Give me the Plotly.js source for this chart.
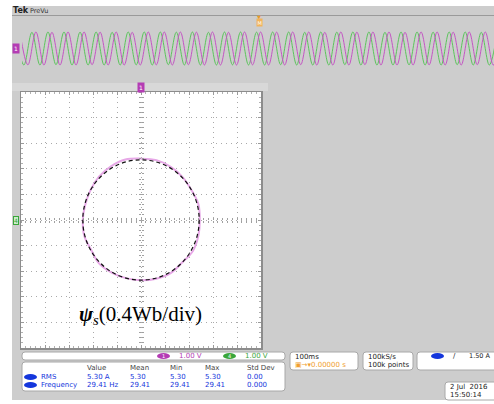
<!DOCTYPE html>
<html>
<head>
<meta charset="utf-8">
<script src="https://cdn.plot.ly/plotly-3.0.1.min.js"></script>
<style>
  html, body { margin: 0; padding: 0; background: #ffffff; }
  #scope { width: 494px; height: 404px; }
</style>
</head>
<body>
<div id="scope"></div>
<script>
// Record overview: extrema of channel 1 (magenta) and channel 4 (green), time in ms
const ch1Time = [
  -4.5, 12.5, 29.5, 46.5, 63.5, 80.5, 97.5, 114.5, 131.5, 148.5,
  165.5, 182.5, 199.5, 216.5, 233.5, 250.5, 267.5, 284.5, 301.5, 318.5,
  335.5, 352.5, 369.5, 386.5, 403.5, 420.5, 437.5, 454.5, 471.5, 488.5,
  505.5, 522.5, 539.5, 556.5, 573.5, 590.5, 607.5, 624.5, 641.5, 658.5,
  675.5, 692.5, 709.5, 726.5, 743.5, 760.5, 777.5, 794.5, 811.5, 828.5,
  845.5, 862.5, 879.5, 896.5, 913.5, 930.5, 947.5, 964.5, 981.5, 998.5,
  1015.5
];
const ch1Value = [
  1, -0.99, 1, -1, 0.98, -1, 1, -1, 1, -0.98,
  0.99, -1, 1, -1, 0.98, -1, 1, -0.99, 1, -1,
  1, -0.98, 0.99, -1, 1, -1, 0.98, -1, 1, -0.99,
  1, -1, 0.99, -1, 1, -0.98, 1, -1, 0.98, -1,
  1, -1, 0.99, -0.98, 1, -1, 1, -1, 0.98, -1,
  1, -0.99, 1, -1, 0.99, -1, 1, -0.98, 1, -1,
  1
];
const ch4Time = [
  -13, 4, 21, 38, 55, 72, 89, 106, 123, 140,
  157, 174, 191, 208, 225, 242, 259, 276, 293, 310,
  327, 344, 361, 378, 395, 412, 429, 446, 463, 480,
  497, 514, 531, 548, 565, 582, 599, 616, 633, 650,
  667, 684, 701, 718, 735, 752, 769, 786, 803, 820,
  837, 854, 871, 888, 905, 922, 939, 956, 973, 990,
  1007
];
const ch4Value = [
  1, -1, 0.98, -1, 1, -0.98, 1, -1, 0.99, -1,
  1, -1, 0.98, -1, 1, -0.99, 1, -1, 1, -0.98,
  0.99, -1, 1, -1, 0.98, -1, 1, -0.99, 1, -1,
  0.99, -1, 1, -0.98, 1, -1, 0.98, -1, 1, -1,
  0.99, -0.98, 1, -1, 1, -1, 0.98, -1, 1, -0.99,
  1, -1, 0.99, -1, 1, -0.98, 1, -1, 0.98, -1,
  1
];

// Stator flux trajectory in the XY display (Wb)
const psiAlpha = [0.98, 0.956, 0.84, 0.693, 0.495, 0.259, 0, -0.261, -0.5, -0.7, -0.84, -0.928,
                  -0.97, -0.946, -0.832, -0.7, -0.49, -0.251, 0, 0.254, 0.495, 0.686, 0.865, 0.956, 0.98];
const psiBeta  = [0, 0.248, 0.47, 0.671, 0.83, 0.935, 0.959, 0.944, 0.838, 0.678, 0.47, 0.241,
                  0, -0.246, -0.465, -0.678, -0.822, -0.908, -0.94, -0.917, -0.83, -0.665, -0.484, -0.248, 0];
// Reference flux circle half-widths (alpha, beta), Wb
const psiRadius = [0.97, 0.94];

// Channel scales and measurement readout
const chNames = ['1', '4'];
const chScales = ['1.00 V', '1.00 V'];
const measHeaders = ['Value', 'Mean', 'Min', 'Max', 'Std Dev'];
const measNames = ['RMS', 'Frequency'];
const measRows = [
  ['5.30 A', '5.30', '5.30', '5.30', '0.00'],
  ['29.41 Hz', '29.41', '29.41', '29.41', '0.000']
];
const timebase = ['100ms', '\u25A3\u2192\u25BE0.00000 s'];
const acquisition = ['100kS/s', '100k points'];
const triggerLevel = '1.50 A';
const stamp = ['2 Jul  2016', '15:50:14'];

// ---- page geometry helpers (pixel -> paper fraction) ----
const W = 494, H = 404;
const fx = p => p / W;
const fy = p => 1 - p / H;

const UI_FONT = 'DejaVu Sans, Liberation Sans, sans-serif';
const MAGENTA = '#b43cb4', GREEN = '#3aa63a', BLUE = '#1436dc';

function rrect(x0, y0, x1, y1, r, fill, line) {
  const rx = r / W, ry = r / H;
  const a = fx(x0), b = fx(x1), t = fy(y0), u = fy(y1);
  const path = `M ${a + rx} ${t} L ${b - rx} ${t} Q ${b} ${t} ${b} ${t - ry} L ${b} ${u + ry} Q ${b} ${u} ${b - rx} ${u} ` +
               `L ${a + rx} ${u} Q ${a} ${u} ${a} ${u + ry} L ${a} ${t - ry} Q ${a} ${t} ${a + rx} ${t} Z`;
  return { type: 'path', xref: 'paper', yref: 'paper', path, fillcolor: fill,
           line: { color: line || '#a8a8a8', width: 1 }, layer: 'below' };
}
function oval(x0, y0, x1, y1, fill) {
  return { type: 'circle', xref: 'paper', yref: 'paper', x0: fx(x0), x1: fx(x1), y0: fy(y1), y1: fy(y0),
           fillcolor: fill, line: { width: 0 }, layer: 'above' };
}
function label(text, x, y, opts) {
  opts = opts || {};
  return Object.assign({
    text, x: fx(x), y: fy(y), xref: 'paper', yref: 'paper', showarrow: false,
    xanchor: 'left', yanchor: 'middle',
    font: { family: UI_FONT, size: 7, color: '#333333' }
  }, opts);
}

const traces = [
  { x: ch4Time, y: ch4Value, xaxis: 'x', yaxis: 'y', mode: 'lines',
    line: { color: '#5cc45c', width: 1, shape: 'spline', smoothing: 1 }, hoverinfo: 'skip' },
  { x: ch1Time, y: ch1Value, xaxis: 'x', yaxis: 'y', mode: 'lines',
    line: { color: '#c455c4', width: 1, shape: 'spline', smoothing: 1 }, hoverinfo: 'skip' },
  { x: psiAlpha, y: psiBeta, xaxis: 'x2', yaxis: 'y2', mode: 'lines',
    line: { color: '#e7a8e7', width: 2, shape: 'spline', smoothing: 1 }, hoverinfo: 'skip' },
  // empty traces that bring the centre-cross tick axes into being
  { x: [], y: [], xaxis: 'x3', yaxis: 'y2', mode: 'lines', hoverinfo: 'skip' },
  { x: [], y: [], xaxis: 'x4', yaxis: 'y2', mode: 'lines', hoverinfo: 'skip' },
  { x: [], y: [], xaxis: 'x2', yaxis: 'y3', mode: 'lines', hoverinfo: 'skip' },
  { x: [], y: [], xaxis: 'x2', yaxis: 'y4', mode: 'lines', hoverinfo: 'skip' }
];

const hidden = { showgrid: false, zeroline: false, showticklabels: false, ticks: '', showline: false, fixedrange: true };
const gridAxis = {
  range: [-2, 2], tick0: 0, dtick: 0.4, showgrid: true, gridcolor: '#a9a9a9', griddash: '1px,4px', gridwidth: 1,
  zeroline: false, showticklabels: false, ticks: 'inside', ticklen: 3, tickcolor: '#9a9a9a',
  minor: { dtick: 0.08, ticks: 'inside', ticklen: 2, tickcolor: '#b0b0b0', showgrid: false },
  showline: true, linecolor: '#8c8c8c', linewidth: 1.5, mirror: 'ticks', fixedrange: true
};
const crossAxis = { range: [-2, 2], tick0: 0, dtick: 0.08, ticklen: 2, tickcolor: '#a0a0a0',
  showgrid: false, zeroline: false, showticklabels: false, showline: false, fixedrange: true, anchor: 'free' };

const layout = {
  width: W, height: H, margin: { l: 0, r: 0, t: 0, b: 0 },
  paper_bgcolor: '#ffffff', plot_bgcolor: '#ffffff', showlegend: false, hovermode: false,
  xaxis: Object.assign({}, hidden, { domain: [fx(22), 1], range: [0, 1000], anchor: 'y' }),
  yaxis: Object.assign({}, hidden, { domain: [fy(82), fy(16)], range: [-2.03, 1.97], anchor: 'x' }),
  xaxis2: Object.assign({}, gridAxis, { domain: [fx(21), fx(261)], anchor: 'y2' }),
  yaxis2: Object.assign({}, gridAxis, { domain: [fy(348), fy(92)], anchor: 'x2' }),
  xaxis3: Object.assign({}, crossAxis, { overlaying: 'x2', position: fy(220), ticks: 'outside' }),
  xaxis4: Object.assign({}, crossAxis, { overlaying: 'x2', position: fy(220), ticks: 'inside' }),
  yaxis3: Object.assign({}, crossAxis, { overlaying: 'y2', position: fx(141), ticks: 'outside' }),
  yaxis4: Object.assign({}, crossAxis, { overlaying: 'y2', position: fx(141), ticks: 'inside' }),
  shapes: [
    // instrument frame
    { type: 'rect', xref: 'paper', yref: 'paper', x0: fx(12), x1: 1, y0: fy(400), y1: fy(6),
      fillcolor: '#cdcdcd', line: { width: 0 }, layer: 'below' },
    { type: 'line', xref: 'paper', yref: 'paper', x0: fx(12), x1: 1, y0: fy(15.5), y1: fy(15.5),
      line: { color: '#9a9a9a', width: 1 }, layer: 'below' },
    { type: 'rect', xref: 'paper', yref: 'paper', x0: fx(12), x1: fx(268), y0: fy(91), y1: fy(83),
      fillcolor: '#d8d8d8', line: { width: 0 }, layer: 'below' },
    // XY display face
    { type: 'rect', xref: 'paper', yref: 'paper', x0: fx(21), x1: fx(261), y0: fy(348), y1: fy(92),
      fillcolor: '#ffffff', line: { width: 0 }, layer: 'below' },
    // readout boxes
    rrect(22, 352, 285, 360, 3, '#ffffff'),
    rrect(22, 362, 285, 391, 3, '#ffffff'),
    rrect(290, 352, 358, 370, 3, '#ffffff'),
    rrect(363, 352, 413, 370, 3, '#ffffff'),
    rrect(417, 352, 500, 370, 3, '#ffffff'),
    rrect(445, 382, 500, 400, 3, '#ffffff'),
    oval(157, 353, 170, 359, MAGENTA),
    oval(223, 353, 236, 359, GREEN),
    oval(24, 374, 37, 380, BLUE),
    oval(24, 382, 37, 388, BLUE),
    oval(431, 353, 444, 359, BLUE),
    // reference flux circle
    { type: 'circle', xref: 'x2', yref: 'y2', x0: -psiRadius[0], x1: psiRadius[0], y0: -psiRadius[1], y1: psiRadius[1],
      line: { color: '#111111', width: 1.2, dash: '4px,3px' }, layer: 'above' }
  ],
  annotations: []
};

const A = layout.annotations;
A.push(label('<b>Tek</b>', 11, 10.5, { font: { family: UI_FONT, size: 8, color: '#222' } }));
A.push(label('PreVu', 28, 10.5, { font: { family: UI_FONT, size: 6.5, color: '#333' } }));

// channel / trigger markers
A.push(label('1', 16, 48, { xanchor: 'center', bgcolor: MAGENTA, font: { family: UI_FONT, size: 6, color: '#fff' }, borderpad: 1 }));
A.push(label('1', 141, 87.5, { xanchor: 'center', bgcolor: MAGENTA, font: { family: UI_FONT, size: 6, color: '#fff' }, borderpad: 1 }));
A.push(label('4', 16, 220, { xanchor: 'center', bgcolor: '#cdeccd', bordercolor: GREEN, borderwidth: 1,
  font: { family: UI_FONT, size: 6, color: GREEN }, borderpad: 0 }));
A.push(label('\u25BC', 259, 16.5, { xanchor: 'center', font: { family: UI_FONT, size: 5, color: '#e89a2a' } }));
A.push(label('M', 259, 22.5, { xanchor: 'center', bgcolor: '#f2b45a', font: { family: UI_FONT, size: 5, color: '#fff' }, borderpad: 0.5 }));

// flux scale label
A.push({
  text: '<b><i>\u03C8</i></b><sub><i>s</i></sub>(0.4Wb/div)', x: fx(140), y: fy(315), xref: 'paper', yref: 'paper',
  showarrow: false, xanchor: 'center', yanchor: 'middle',
  font: { family: 'Liberation Serif, Times New Roman, serif', size: 21, color: '#000' }
});

// channel scales
A.push(label(chNames[0], 163.5, 356, { xanchor: 'center', font: { family: UI_FONT, size: 5, color: '#fff' } }));
A.push(label(chNames[1], 229.5, 356, { xanchor: 'center', font: { family: UI_FONT, size: 5, color: '#fff' } }));
A.push(label(chScales[0], 177, 356, { font: { family: UI_FONT, size: 7, color: MAGENTA } }));
A.push(label(chScales[1], 243, 356, { font: { family: UI_FONT, size: 7, color: GREEN } }));

// measurement table
const colX = [85, 128, 168, 203, 245];
measHeaders.forEach((h, i) => A.push(label(h, colX[i], 368, { font: { family: UI_FONT, size: 7, color: '#444' } })));
measNames.forEach((n, r) => {
  const y = 377 + r * 8;
  A.push(label(n, 39, y, { font: { family: UI_FONT, size: 7, color: BLUE } }));
  measRows[r].forEach((v, i) => A.push(label(v, colX[i], y, { font: { family: UI_FONT, size: 7, color: BLUE } })));
});

// timebase, acquisition, trigger, date
A.push(label(timebase[0], 293, 356.5, { font: { family: UI_FONT, size: 7, color: '#222' } }));
A.push(label(timebase[1], 293, 365, { font: { family: UI_FONT, size: 7, color: '#f0a030' } }));
A.push(label(acquisition[0], 366, 356.5, { font: { family: UI_FONT, size: 7, color: '#222' } }));
A.push(label(acquisition[1], 366, 365, { font: { family: UI_FONT, size: 7, color: '#222' } }));
A.push(label('/', 451, 356, { font: { family: UI_FONT, size: 7, color: '#222' } }));
A.push(label(triggerLevel, 467, 356, { font: { family: UI_FONT, size: 6.5, color: '#222' } }));
A.push(label(stamp[0], 448, 387, { font: { family: UI_FONT, size: 7, color: '#222' } }));
A.push(label(stamp[1], 448, 395, { font: { family: UI_FONT, size: 7, color: '#222' } }));

Plotly.newPlot('scope', traces, layout, { staticPlot: true, displayModeBar: false });
</script>
</body>
</html>
